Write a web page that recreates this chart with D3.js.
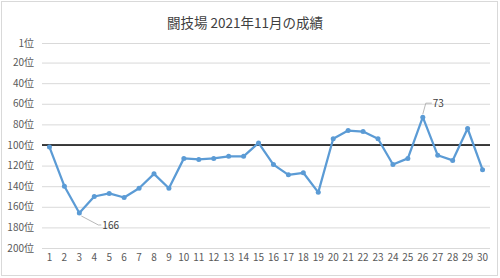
<!DOCTYPE html>
<html>
<head>
<meta charset="utf-8">
<script src="https://cdnjs.cloudflare.com/ajax/libs/d3/7.8.5/d3.min.js"></script>
<style>
  body { margin: 0; background: #fff; }
  text { font-family: "Noto Sans CJK JP", "Noto Sans", sans-serif; }
</style>
</head>
<body>
<div id="chart"></div>
<script>
// data
var days = d3.range(1, 31);
var ranks = [102, 140, 166, 150, 147, 151, 142, 128, 142, 113,
             114, 113, 111, 111, 98, 119, 129, 127, 146, 94,
             86, 87, 94, 119, 113, 73, 110, 115, 84, 124];
var yTicks = [1, 20, 40, 60, 80, 100, 120, 140, 160, 180, 200];
var refLine = 100;
var title = "闘技場 2021年11月の成績";

var svgWidth = 500, svgHeight = 278;
var margin = { top: 43, right: 10, bottom: 30, left: 42 };

var svg = d3.select("#chart").append("svg")
  .attr("width", svgWidth)
  .attr("height", svgHeight);

// outer frame
svg.append("rect")
  .attr("x", 1.5).attr("y", 1.5)
  .attr("width", svgWidth - 4).attr("height", svgHeight - 4)
  .attr("fill", "#fff")
  .attr("stroke", "#d9d9d9");

var x = d3.scaleBand()
  .domain(days)
  .range([42, 490]);

var y = d3.scaleLinear()
  .domain([1, 200])
  .range([43, 248]);

// title
svg.append("text")
  .attr("x", 245).attr("y", 28)
  .attr("text-anchor", "middle")
  .attr("font-size", 13.5)
  .attr("fill", "#404040")
  .text(title);

// gridlines + y labels
var yAxis = d3.axisLeft(y)
  .tickValues(yTicks)
  .tickSize(-(490 - 42))
  .tickPadding(8)
  .tickFormat(d => d + "位");

var gy = svg.append("g")
  .attr("transform", "translate(42,0)")
  .call(yAxis);
gy.select(".domain").remove();
gy.selectAll(".tick line").attr("stroke", "#d9d9d9").attr("stroke-width", 1);
gy.selectAll(".tick text")
  .attr("fill", "#595959")
  .attr("font-size", 10)
  .attr("font-family", "\"Noto Sans CJK JP\", sans-serif");

// x labels
var xAxis = d3.axisBottom(x).tickSize(0).tickPadding(6);
var gx = svg.append("g")
  .attr("transform", "translate(0,248)")
  .call(xAxis);
gx.select(".domain").remove();
gx.selectAll(".tick text")
  .attr("fill", "#595959")
  .attr("font-size", 10)
  .attr("font-family", "\"Noto Sans CJK JP\", sans-serif");

// reference line at 100
svg.append("line")
  .attr("x1", 42).attr("x2", 490)
  .attr("y1", y(refLine)).attr("y2", y(refLine))
  .attr("stroke", "#000")
  .attr("stroke-width", 1.5);

var cx = d => x(d) + x.bandwidth() / 2;

// line
var line = d3.line()
  .x((d, i) => cx(days[i]))
  .y(d => y(d));

svg.append("path")
  .datum(ranks)
  .attr("fill", "none")
  .attr("stroke", "#5b9bd5")
  .attr("stroke-width", 2.25)
  .attr("stroke-linejoin", "round")
  .attr("d", line);

svg.selectAll("circle.pt")
  .data(ranks)
  .enter()
  .append("circle")
  .attr("class", "pt")
  .attr("cx", (d, i) => cx(days[i]))
  .attr("cy", d => y(d))
  .attr("r", 2.5)
  .attr("fill", "#5b9bd5");

// data labels with leader lines
var i3 = 2, i26 = 25;
var p3 = [cx(days[i3]), y(ranks[i3])];
svg.append("polyline")
  .attr("points", [[p3[0] + 2, p3[1] + 3], [p3[0] + 19, p3[1] + 12], [p3[0] + 22, p3[1] + 12]].join(" "))
  .attr("fill", "none")
  .attr("stroke", "#a6a6a6")
  .attr("stroke-width", 0.8);
svg.append("text")
  .attr("x", p3[0] + 23).attr("y", p3[1] + 16)
  .attr("font-size", 10)
  .attr("fill", "#404040")
  .text(ranks[i3]);

var p26 = [cx(days[i26]), y(ranks[i26])];
svg.append("polyline")
  .attr("points", [[p26[0], p26[1] - 3], [p26[0] + 3, p26[1] - 14], [p26[0] + 9, p26[1] - 14]].join(" "))
  .attr("fill", "none")
  .attr("stroke", "#a6a6a6")
  .attr("stroke-width", 0.8);
svg.append("text")
  .attr("x", p26[0] + 10).attr("y", p26[1] - 10)
  .attr("font-size", 10)
  .attr("fill", "#404040")
  .text(ranks[i26]);
</script>
</body>
</html>
